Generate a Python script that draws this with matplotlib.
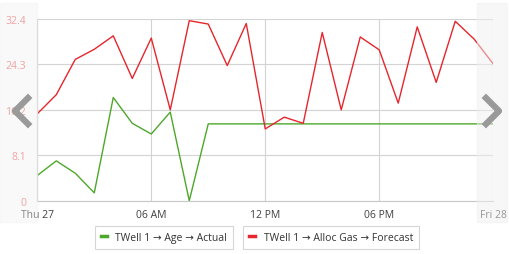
import matplotlib.pyplot as plt
from matplotlib.lines import Line2D
from matplotlib.patches import Rectangle

plt.rcParams['font.family'] = ['Open Sans', 'DejaVu Sans']

# hourly points, Thu 27 00:00 -> Fri 28 00:00
hours = list(range(25))
actual = [4.5, 7.1, 4.9, 1.4, 18.4, 13.8, 11.9, 15.8, 0.0, 13.7, 13.7, 13.7, 13.7,
          13.7, 13.7, 13.7, 13.7, 13.7, 13.7, 13.7, 13.7, 13.7, 13.7, 13.7, 13.7]
forecast = [15.5, 18.9, 25.2, 27.0, 29.4, 21.8, 29.0, 16.2, 32.1, 31.5, 24.1, 31.6, 12.8,
            14.9, 13.8, 30.0, 16.2, 29.2, 26.9, 17.4, 31.0, 21.1, 32.0, 28.8, 24.4]
yticks = [0, 8.1, 16.2, 24.3, 32.4]
xticks = [0, 6, 12, 18, 24]
xlabels = ['Thu 27', '06 AM', '12 PM', '06 PM', 'Fri 28']

green = '#4ea72a'
red = '#e5262c'

fig = plt.figure(figsize=(5.1, 2.55), dpi=100)
ax = fig.add_axes([0.0731, 0.209, 0.894, 0.7125])

ax.plot(hours, actual, color=green, lw=1.0)
ax.plot(hours, forecast, color=red, lw=1.0)

ax.set_xlim(0, 24)
ax.set_ylim(0, 32.4)
ax.set_yticks(yticks)
ax.set_yticklabels(['0', '8.1', '16.2', '24.3', '32.4'], color='#ee7070', fontsize=7.5)
ax.set_xticks(xticks)
ax.set_xticklabels(xlabels, color='#404040', fontsize=7.5)
ax.tick_params(length=0, pad=8)
ax.tick_params(axis='x', pad=6)
ax.grid(True, color='#d3d3d3', lw=0.8)
for s in ax.spines.values():
    s.set_visible(False)
ax.spines['left'].set_visible(True)
ax.spines['bottom'].set_visible(True)
ax.spines['left'].set_color('#c8c8c8')
ax.spines['bottom'].set_color('#c8c8c8')

# navigation shades and chevrons
W, H = 510, 255
def fx(px): return px / W
def fy(py): return 1 - py / H

fig.patches.append(Rectangle((fx(0), fy(223)), fx(37), 219 / H, transform=fig.transFigure,
                             color='#f0f0f0', alpha=0.4, zorder=5))
fig.patches.append(Rectangle((fx(477), fy(223)), fx(30), 219 / H, transform=fig.transFigure,
                             color='#f0f0f0', alpha=0.5, zorder=5))
fig.lines.append(Line2D([fx(28), fx(15), fx(28)], [fy(99), fy(112), fy(125)],
                        transform=fig.transFigure, color='#9a9a9a', lw=4.5, zorder=6))
fig.lines.append(Line2D([fx(486), fx(499), fx(486)], [fy(99), fy(112), fy(125)],
                        transform=fig.transFigure, color='#9a9a9a', lw=4.5, zorder=6))

# legends
h1 = Line2D([], [], color=green, lw=2.5)
h2 = Line2D([], [], color=red, lw=2.5)
leg_kw = dict(fontsize=7.5, handlelength=0.6, handletextpad=0.8, frameon=True, fancybox=False,
              edgecolor='#cccccc', borderpad=0.55, borderaxespad=0)
leg1 = fig.legend([h1], ['TWell 1 \u2192 Age \u2192 Actual'], loc='center',
                  bbox_to_anchor=(fx(164), fy(238.5)), **leg_kw)
leg1.get_frame().set_linewidth(0.8)
leg2 = fig.legend([h2], ['TWell 1 \u2192 Alloc Gas \u2192 Forecast'], loc='center',
                  bbox_to_anchor=(fx(331), fy(238.5)), **leg_kw)
leg2.get_frame().set_linewidth(0.8)
for t in leg1.get_texts() + leg2.get_texts():
    t.set_color('#333333')

fig.savefig('out.png', dpi=100)
